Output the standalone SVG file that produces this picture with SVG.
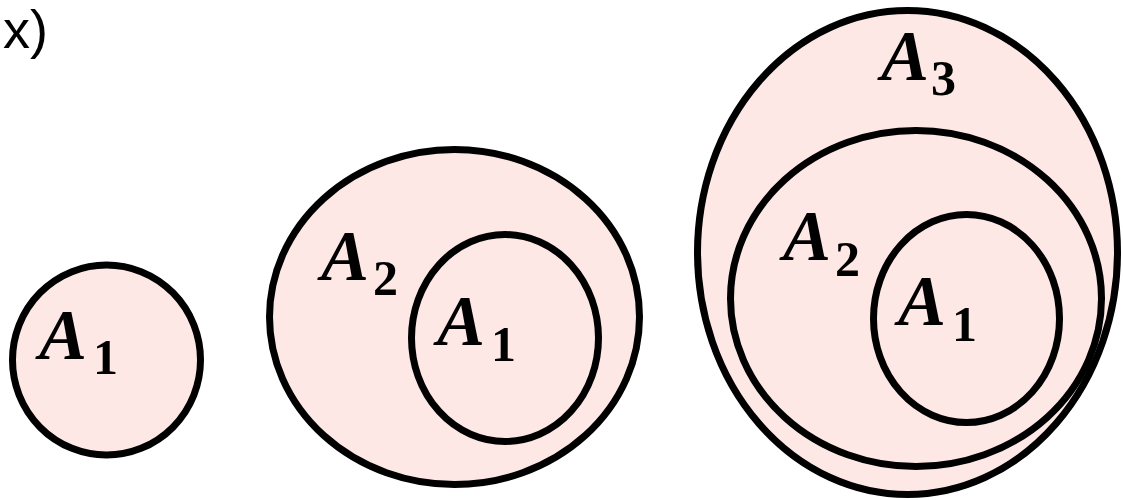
<svg xmlns="http://www.w3.org/2000/svg" width="1123" height="500" viewBox="0 0 1123 500">
<style>
.set{fill:#fde8e6;stroke:#000;stroke-width:7}
.m{font-family:"Liberation Serif","DejaVu Serif",serif;font-weight:bold;font-style:italic;font-size:72px;fill:#000}
.s{font-family:"Liberation Serif","DejaVu Serif",serif;font-weight:bold;font-size:50px;fill:#000}
.t{font-family:"Liberation Sans","DejaVu Sans",sans-serif;font-size:54px;fill:#000}
</style>
<rect width="1123" height="500" fill="#fff"/>
<text class="t" x="3" y="48">x)</text>
<g id="fig1">
<ellipse class="set" cx="106.5" cy="360" rx="94" ry="95"/>
<text class="m" x="39" y="359">A</text><text class="s" x="93" y="374">1</text>
</g>
<g id="fig2">
<ellipse class="set" cx="454.5" cy="317" rx="185" ry="167.5"/>
<ellipse class="set" cx="505" cy="338" rx="93.5" ry="103.5"/>
<text class="m" x="321" y="280">A</text><text class="s" x="373" y="295">2</text>
<text class="m" x="437" y="345">A</text><text class="s" x="491" y="361">1</text>
</g>
<g id="fig3">
<ellipse class="set" cx="907.5" cy="252.5" rx="210" ry="242"/>
<ellipse class="set" cx="916" cy="298.5" rx="185.5" ry="168"/>
<ellipse class="set" cx="966.5" cy="318.5" rx="93" ry="104"/>
<text class="m" x="881" y="80">A</text><text class="s" x="931" y="95">3</text>
<text class="m" x="783" y="260">A</text><text class="s" x="835" y="276">2</text>
<text class="m" x="898" y="325">A</text><text class="s" x="952" y="341">1</text>
</g>
</svg>
